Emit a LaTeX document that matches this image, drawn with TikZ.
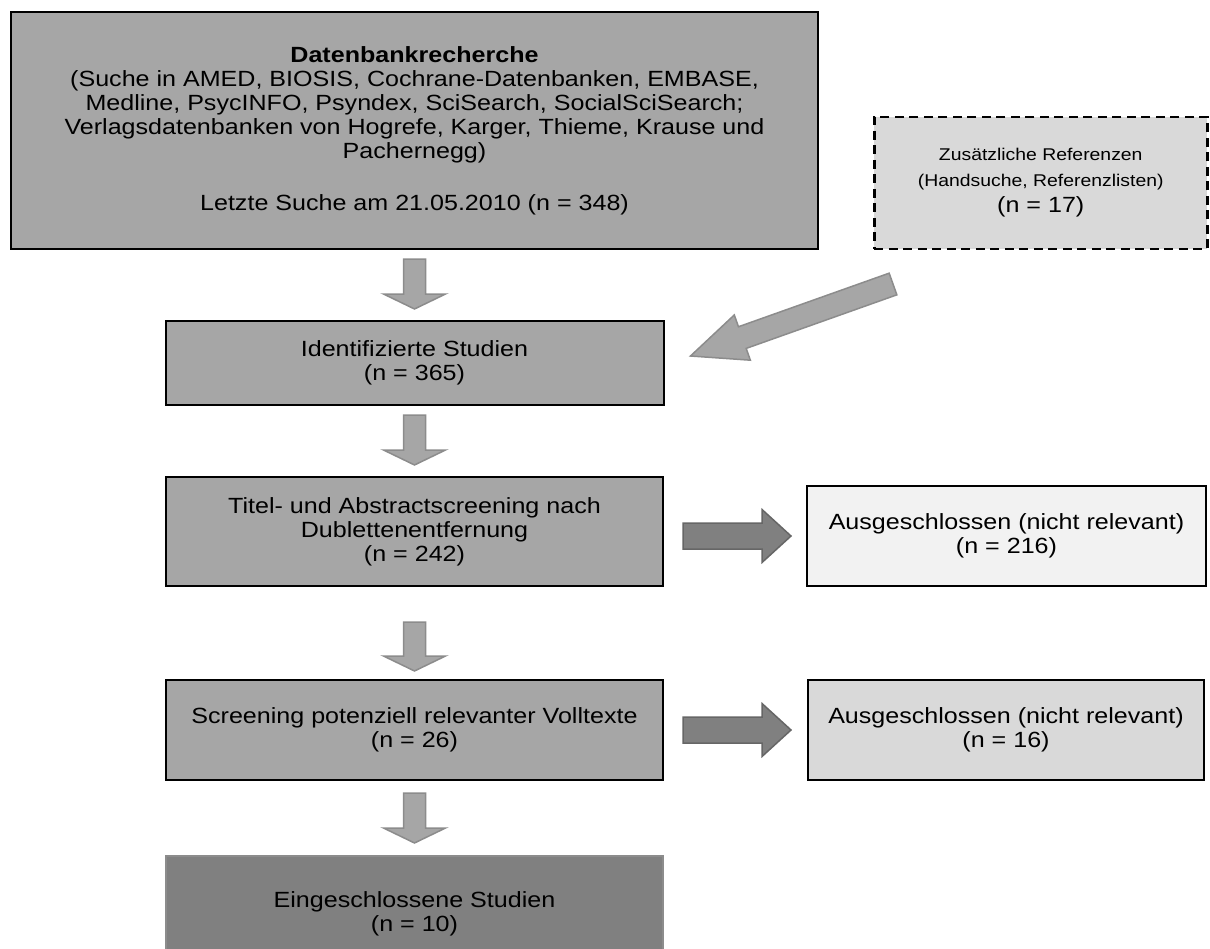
\documentclass[tikz,border=0pt]{standalone}
\usepackage{fontspec}
\setmainfont{Liberation Sans}[FakeStretch=1.14]
\usetikzlibrary{calc, positioning}
\definecolor{boxgray}{HTML}{A6A6A6}
\definecolor{lightgray}{HTML}{D9D9D9}
\definecolor{palegray}{HTML}{F2F2F2}
\definecolor{darkgray}{HTML}{808080}
\definecolor{arrowedge}{HTML}{8C8C8C}
\definecolor{darkedge}{HTML}{666666}
\newcommand{\smalltxt}{\fontsize{17pt}{20pt}\selectfont}
% block arrow: [style]{tail}{tip}{shaft half width}{head half width}{head length}
\newcommand{\blockarrow}[6][]{%
  \draw[#1] let \p1=($(#3)-(#2)$), \n1={atan2(\y1,\x1)}, \p2=($(#3)!#6!(#2)$) in
    ($(#2)+({\n1+90}:#4)$) -- ($(\p2)+({\n1+90}:#4)$) -- ($(\p2)+({\n1+90}:#5)$) -- (#3)
    -- ($(\p2)+({\n1-90}:#5)$) -- ($(\p2)+({\n1-90}:#4)$) -- ($(#2)+({\n1-90}:#4)$) -- cycle;}
\tikzset{
box/.style={draw, line width=2pt, fill=#1, align=center, inner sep=0pt}, % every box of the flow
dashbox/.style={box=lightgray, line width=2.5pt, dash pattern=on 9pt off 5.5pt},
lastbox/.style={box=darkgray, draw=arrowedge, line width=1.5pt},
flowarrow/.style={fill=boxgray, draw=arrowedge, line width=1.5pt},
sidearrow/.style={fill=darkgray, draw=darkedge, line width=1.5pt},
}

\begin{document}
\begin{tikzpicture}[font=\fontsize{22pt}{24pt}\selectfont]
  \useasboundingbox (0,0) rectangle (1210pt,-948pt);
  \node[box=boxgray, minimum width=807pt, minimum height=237pt] (db) at (414.5pt,-130.5pt)
    {\textbf{Datenbankrecherche}\\(Suche in AMED, BIOSIS, Cochrane-Datenbanken, EMBASE,\\Medline, PsycINFO, Psyndex, SciSearch, SocialSciSearch;\\Verlagsdatenbanken von Hogrefe, Karger, Thieme, Krause und\\Pachernegg)\\[28pt]Letzte Suche am 21.05.2010 (n = 348)};
  \node[dashbox, minimum width=333pt, minimum height=132pt, right=54pt of db.south east, anchor=south west,
    font=\fontsize{22pt}{26pt}\selectfont] (extra)
    {{\smalltxt Zusätzliche Referenzen}\\{\smalltxt (Handsuche, Referenzlisten)}\\(n = 17)};
  \node[box=boxgray, minimum width=498pt, minimum height=84pt, below=70pt of db] (ident) {Identifizierte Studien\\(n = 365)};
  \node[box=boxgray, minimum width=497pt, minimum height=109pt, below=70pt of ident] (title) {Titel- und Abstractscreening nach\\Dublettenentfernung\\(n = 242)};
  \node[box=palegray, minimum width=399pt, minimum height=100pt, right=142pt of title.south east, anchor=south west] (excl1) {Ausgeschlossen (nicht relevant)\\(n = 216)};
  \node[box=boxgray, minimum width=497pt, minimum height=100pt, below=92pt of title] (screen) {Screening potenziell relevanter Volltexte\\(n = 26)};
  \node[box=lightgray, minimum width=396pt, minimum height=100pt, right=143pt of screen] (excl2) {Ausgeschlossen (nicht relevant)\\(n = 16)};
  \node[lastbox, minimum width=497pt, minimum height=116pt, below=74pt of screen] (incl) {Eingeschlossene Studien\\(n = 10)};

  \coordinate (dtail) at ($(extra.south west)+(20pt,-34pt)$);
  \coordinate (dtip) at ($(ident.east)+(26pt,7pt)$);

  \blockarrow[flowarrow]{$(db.south)!9pt!(ident.north)$}{$(ident.north)!11pt!(db.south)$}{11pt}{31pt}{15pt}
  \blockarrow[flowarrow]{$(ident.south)!9pt!(title.north)$}{$(title.north)!11pt!(ident.south)$}{11pt}{31pt}{15pt}
  \blockarrow[flowarrow]{$(title.south)!35pt!(screen.north)$}{$(screen.north)!8pt!(title.south)$}{11pt}{31pt}{15pt}
  \blockarrow[flowarrow]{$(screen.south)!12pt!(incl.north)$}{$(incl.north)!12pt!(screen.south)$}{11pt}{31pt}{15pt}
  \blockarrow[flowarrow]{dtail}{dtip}{11.5pt}{24pt}{55pt}
  \blockarrow[sidearrow]{$(title.east|-excl1.west)!19pt!(excl1.west)$}{$(excl1.west)!15pt!(title.east|-excl1.west)$}{13pt}{26.5pt}{29pt}
  \blockarrow[sidearrow]{$(screen.east)!19pt!(excl2.west)$}{$(excl2.west)!16pt!(screen.east)$}{13pt}{26.5pt}{29pt}
\end{tikzpicture}
\end{document}
